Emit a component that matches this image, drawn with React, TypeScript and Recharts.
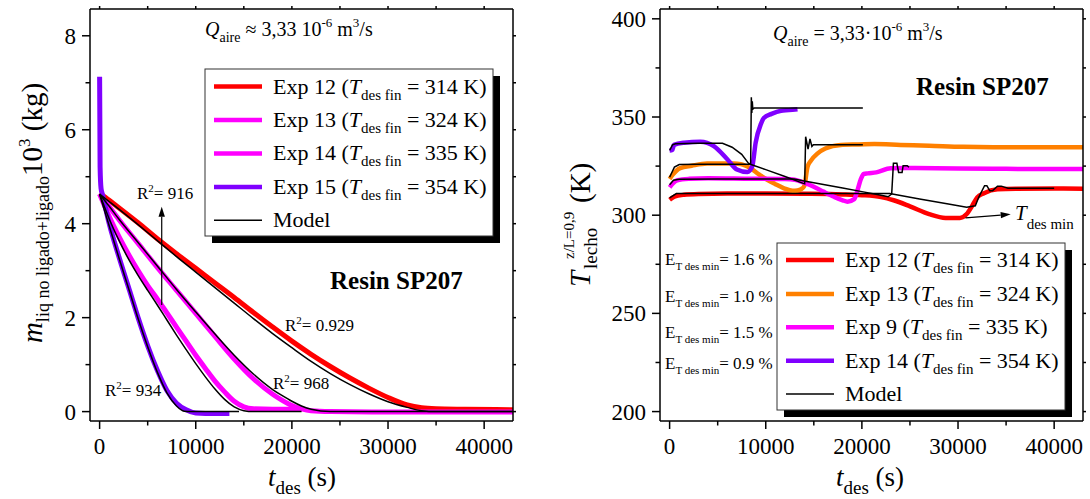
import React from "react";
import { LineChart, Line, XAxis, YAxis, ReferenceLine } from "recharts";

const FONT = "'Liberation Serif', 'Times New Roman', serif";
const RED = "#ff0000";
const MAGENTA = "#ff00ff";
const PURPLE = "#8000ff";
const ORANGE = "#ff8000";

// ---------- left panel: m (10^-3 kg) vs t_des (s) ----------
const tExp12 = [0, 1000, 2000, 4000, 6000, 8000, 10000, 12000, 14000, 16000, 18000, 20000, 22000, 24000, 26000, 28000, 30000, 32000, 33500, 35000, 38000, 43000];
const mExp12 = [4.65, 4.5, 4.34, 4.02, 3.68, 3.36, 3.05, 2.74, 2.43, 2.11, 1.8, 1.5, 1.22, 0.96, 0.72, 0.5, 0.3, 0.14, 0.08, 0.06, 0.05, 0.04];
const mModel12 = [4.63, 4.47, 4.31, 3.98, 3.64, 3.3, 2.97, 2.64, 2.31, 1.98, 1.66, 1.36, 1.07, 0.81, 0.58, 0.38, 0.21, 0.09, 0.02, 0, 0, 0];

const tExp13 = [0, 1000, 2000, 4000, 6000, 8000, 10000, 12000, 14000, 16000, 18000, 19000, 20000, 21000, 22000, 24000, 30000, 43000];
const mExp13 = [4.63, 4.36, 4.09, 3.58, 3.07, 2.58, 2.09, 1.6, 1.12, 0.7, 0.37, 0.24, 0.13, 0.06, 0.02, 0.0, -0.01, -0.01];
const mModel13 = [4.63, 4.37, 4.1, 3.6, 3.1, 2.6, 2.12, 1.65, 1.2, 0.8, 0.47, 0.34, 0.22, 0.12, 0.05, 0.0, 0, 0];

const tExp14 = [0, 1000, 2000, 3000, 4000, 5000, 6000, 7000, 8000, 9000, 10000, 11000, 12000, 13000, 14000, 15000, 16000, 18000, 21000];
const mExp14 = [4.63, 4.15, 3.73, 3.35, 3.0, 2.68, 2.4, 2.1, 1.8, 1.5, 1.2, 0.92, 0.65, 0.42, 0.22, 0.1, 0.06, 0.05, 0.05];
const mModel14 = [4.63, 4.1, 3.65, 3.25, 2.9, 2.58, 2.27, 1.95, 1.63, 1.32, 1.02, 0.74, 0.48, 0.26, 0.1, 0.02, 0, 0, 0];

const tExp15 = [0, 50, 150, 300, 1000, 2000, 3000, 4000, 5000, 6000, 7000, 8000, 9000, 10000, 11000, 13500];
const mExp15 = [7.13, 5.2, 4.75, 4.62, 4.0, 3.3, 2.65, 2.0, 1.4, 0.88, 0.45, 0.18, 0.04, -0.03, -0.04, -0.04];
const tModel15 = [0, 1000, 2000, 3000, 4000, 5000, 6000, 7000, 8000, 8800, 9500, 14500];
const mModel15 = [4.62, 3.95, 3.28, 2.63, 1.98, 1.38, 0.84, 0.4, 0.12, 0.01, 0, 0];

// ---------- right panel: T bed (K) vs t_des (s) ----------
const tT12 = [0, 500, 1500, 3000, 6000, 10000, 14000, 18000, 20000, 22000, 23300, 25000, 27000, 28700, 30200, 30900, 31500, 32000, 32700, 34100, 36000, 40000, 43000];
const T12 = [307.9, 309.5, 310.4, 310.8, 311.0, 311.0, 310.9, 310.6, 310.2, 309.2, 307.6, 304.5, 300.5, 298.6, 298.6, 300.6, 305.0, 309.1, 311.2, 313.2, 313.5, 313.6, 313.5];
const tTm12 = [0, 700, 5000, 10000, 15000, 20000, 22900, 26000, 29000, 30900, 31800, 32150, 32760, 33000, 33300, 33600, 34100, 34500, 35200, 40000];
const Tm12 = [308.8, 311.0, 311.1, 311.1, 311.1, 311.1, 311.0, 308.3, 305.7, 304.0, 304.8, 309.1, 315.0, 315.0, 312.5, 312.5, 314.8, 314.8, 313.7, 313.7];

const tT13 = [0, 300, 1100, 2300, 3900, 5200, 6700, 7400, 8400, 9300, 10200, 11000, 11900, 12800, 13300, 13700, 14000, 14350, 14700, 15400, 16200, 17800, 19700, 21300, 24000, 27000, 30500, 35000, 40000, 43000];
const T13 = [318.4, 320.5, 324.0, 325.2, 326.3, 326.3, 326.3, 326.0, 323.9, 320.8, 317.9, 315.8, 313.7, 312.4, 312.6, 313.3, 314.8, 324.7, 327.8, 331.5, 334.0, 335.8, 336.0, 336.2, 335.8, 335.4, 334.8, 334.6, 334.6, 334.6];
const tTm13 = [0, 500, 1000, 3000, 6000, 8400, 10000, 12000, 13900, 14050, 14150, 14400, 14600, 14800, 14950, 17000, 20100];
const Tm13 = [319.3, 324.5, 325.8, 325.9, 325.9, 325.9, 323.2, 319.7, 316.2, 316.0, 340.0, 333.7, 338.8, 335.0, 335.9, 335.9, 335.9];

const tT9 = [0, 400, 800, 2000, 4000, 8000, 12000, 13000, 13900, 15000, 16000, 17100, 18000, 18500, 19200, 19500, 19900, 20200, 20600, 21500, 23000, 24700, 30000, 35000, 40000, 43000];
const T9 = [314.2, 316.5, 317.8, 318.5, 318.8, 318.6, 318.4, 318.1, 316.7, 314.5, 312.0, 309.4, 307.6, 306.9, 308.2, 312.0, 318.5, 321.0, 321.3, 321.8, 323.9, 324.0, 323.8, 323.6, 323.5, 323.5];
const tTm9 = [0, 400, 1000, 5000, 10000, 12950, 14000, 16000, 18000, 20000, 22000, 22730, 23100, 23280, 23640, 23820, 24180, 24290, 24720, 24900];
const Tm9 = [315.5, 317.8, 318.3, 318.4, 318.4, 318.4, 317.4, 315.6, 313.8, 312.0, 310.2, 309.4, 310.8, 326.4, 326.4, 321.8, 321.8, 325.2, 325.2, 324.4];

const tT14 = [0, 280, 450, 1500, 3200, 4600, 6000, 7000, 8100, 8600, 8950, 9500, 9800, 10600, 11600, 12400, 13300];
const T14 = [332.9, 333.2, 335.8, 336.9, 337.4, 335.2, 328.5, 323.3, 322.0, 325.0, 337.0, 346.5, 349.5, 351.6, 353.2, 353.5, 354.0];
const tTm14 = [0, 300, 600, 3000, 5500, 6500, 7500, 8250, 8430, 8500, 8550, 8600, 8650, 8800, 12000, 20100];
const Tm14 = [333.0, 335.8, 336.4, 336.6, 336.6, 334.6, 331.0, 326.1, 326.5, 360.1, 352.0, 358.0, 354.0, 354.6, 354.6, 354.6];

// ---------- axes / labels ----------
const xMajor = [0, 10000, 20000, 30000, 40000];
const xMinor = [5000, 15000, 25000, 35000];
const mMajor = [0, 2, 4, 6, 8];
const mMinor = [1, 3, 5, 7];
const TMajor = [200, 250, 300, 350, 400];
const TMinor = [225, 275, 325, 375];

const leftLegend = [
  { name: "Exp 12", temp: 314, color: RED },
  { name: "Exp 13", temp: 324, color: MAGENTA },
  { name: "Exp 14", temp: 335, color: MAGENTA },
  { name: "Exp 15", temp: 354, color: PURPLE },
];
const rightLegend = [
  { name: "Exp 12", temp: 314, color: RED },
  { name: "Exp 13", temp: 324, color: ORANGE },
  { name: "Exp 9", temp: 335, color: MAGENTA },
  { name: "Exp 14", temp: 354, color: PURPLE },
];
const errLabels = ["1.6", "1.0", "1.5", "0.9"];

const pts = (t: number[], v: number[]) => t.map((x, i) => ({ t: x, v: v[i] }));
const sortTicks = (a: number[], b: number[]) => [...a, ...b].sort((p, q) => p - q);

type Side = "bottom" | "top" | "left" | "right";
const makeTick = (side: Side, majors: number[]) => (props: any) => {
  const { x, y, payload } = props;
  const major = majors.includes(payload.value);
  const mirror = side === "top" || side === "right";
  const len = mirror ? 3 : major ? 8 : 4.5;
  const s = { stroke: "#000", strokeWidth: 1.5 };
  if (side === "bottom")
    return (
      <g>
        <line x1={x} y1={y} x2={x} y2={y + len} {...s} />
        {major && (
          <text x={x} y={y + 33} textAnchor="middle" fontSize={23} fontFamily={FONT} fill="#000">
            {payload.value}
          </text>
        )}
      </g>
    );
  if (side === "top") return <line x1={x} y1={y} x2={x} y2={y - len} {...s} />;
  if (side === "right") return <line x1={x} y1={y} x2={x + len} y2={y} {...s} />;
  return (
    <g>
      <line x1={x} y1={y} x2={x - len} y2={y} {...s} />
      {major && (
        <text x={x - 14} y={y + 8} textAnchor="end" fontSize={23} fontFamily={FONT} fill="#000">
          {payload.value}
        </text>
      )}
    </g>
  );
};

const Arrow = (props: any) => {
  const { x1, y1, x2, y2 } = props;
  const a = Math.atan2(y2 - y1, x2 - x1);
  const L = 10;
  const W = 3.2;
  const bx = x2 - L * Math.cos(a);
  const by = y2 - L * Math.sin(a);
  const px = -Math.sin(a) * W;
  const py = Math.cos(a) * W;
  return (
    <g>
      <line x1={x1} y1={y1} x2={bx} y2={by} stroke="#000" strokeWidth={1.2} />
      <polygon points={`${x2},${y2} ${bx + px},${by + py} ${bx - px},${by - py}`} fill="#000" />
    </g>
  );
};

const axisLine = { stroke: "#000", strokeWidth: 1.5 };

const expLine = (key: string, data: any[], color: string, w: number) => (
  <Line key={key} data={data} dataKey="v" type="monotone" stroke={color} strokeWidth={w} dot={false} isAnimationActive={false} strokeLinejoin="round" />
);
const modelLine = (key: string, data: any[], curve: "monotone" | "linear") => (
  <Line key={key} data={data} dataKey="v" type={curve} stroke="#000" strokeWidth={1.5} dot={false} isAnimationActive={false} />
);

const Frame = ({ yDomain, yMajor, yMinor, leftW, rightW }: any) => [
  <XAxis key="xb" dataKey="t" type="number" domain={[-1000, 43000]} allowDataOverflow ticks={sortTicks(xMajor, xMinor)} interval={0} tickSize={0} tickMargin={0} tickLine={false} height={78} axisLine={axisLine} tick={makeTick("bottom", xMajor)} />,
  <XAxis key="xt" xAxisId="top" orientation="top" dataKey="t" type="number" domain={[-1000, 43000]} allowDataOverflow ticks={sortTicks(xMajor, xMinor)} interval={0} tickSize={0} tickMargin={0} tickLine={false} height={9} axisLine={axisLine} tick={makeTick("top", xMajor)} />,
  <YAxis key="yl" type="number" domain={yDomain} allowDataOverflow ticks={sortTicks(yMajor, yMinor)} interval={0} tickSize={0} tickMargin={0} tickLine={false} width={leftW} axisLine={axisLine} tick={makeTick("left", yMajor)} />,
  <YAxis key="yr" yAxisId="right" orientation="right" type="number" domain={yDomain} allowDataOverflow ticks={sortTicks(yMajor, yMinor)} interval={0} tickSize={0} tickMargin={0} tickLine={false} width={rightW} axisLine={axisLine} tick={makeTick("right", yMajor)} />,
];

const Legend = ({ x, y, rows, rowY }: any) => (
  <g>
    <rect x={x + 7} y={y + 7} width={288} height={167} fill="#000" />
    <rect x={x} y={y} width={288} height={167} fill="#fff" stroke="#333" strokeWidth={1} />
    {rows.map((r: any, i: number) => (
      <g key={i}>
        <line x1={x + 9} x2={x + 57} y1={rowY[i]} y2={rowY[i]} stroke={r.color} strokeWidth={4.5} />
        <text x={x + 68} y={rowY[i] + 7} fontSize={22} fontFamily={FONT} style={{ whiteSpace: "pre" }}>
          {`${r.name} (`}
          <tspan fontStyle="italic">T</tspan>
          <tspan fontSize={15} dy={6}>des fin</tspan>
          <tspan dy={-6}>{` = ${r.temp} K)`}</tspan>
        </text>
      </g>
    ))}
    <line x1={x + 9} x2={x + 57} y1={rowY[4]} y2={rowY[4]} stroke="#000" strokeWidth={1.5} />
    <text x={x + 68} y={rowY[4] + 7} fontSize={22} fontFamily={FONT}>Model</text>
  </g>
);

const R2 = ({ x, y, v }: any) => (
  <text x={x} y={y} fontSize={17} fontFamily={FONT} style={{ whiteSpace: "pre" }}>
    R<tspan fontSize={11} dy={-7}>2</tspan>
    <tspan dy={7}>{`= ${v}`}</tspan>
  </text>
);

export default function App() {
  return (
    <div style={{ position: "absolute", left: 0, top: 0, width: 1090, height: 499, background: "#fff" }}>
      <div style={{ position: "absolute", left: 0, top: 0 }}>
        <LineChart width={545} height={499} margin={{ top: 0, right: 0, bottom: 0, left: 0 }}>
          {Frame({ yDomain: [-0.2, 8.57], yMajor: mMajor, yMinor: mMinor, leftW: 90, rightW: 32 })}
          {expLine("e12", pts(tExp12, mExp12), RED, 5)}
          {expLine("e13", pts(tExp13, mExp13), MAGENTA, 5)}
          {expLine("e14", pts(tExp14, mExp14), MAGENTA, 5)}
          {expLine("e15", pts(tExp15, mExp15), PURPLE, 5)}
          {modelLine("m12", pts(tExp12, mModel12), "monotone")}
          {modelLine("m13", pts(tExp13, mModel13), "monotone")}
          {modelLine("m14", pts(tExp14, mModel14), "monotone")}
          {modelLine("m15", pts(tModel15, mModel15), "monotone")}
          <ReferenceLine segment={[{ x: 6460, y: 2.27 }, { x: 6460, y: 4.36 }]} shape={Arrow} />
        </LineChart>
      </div>
      <div style={{ position: "absolute", left: 545, top: 0 }}>
        <LineChart width={545} height={499} margin={{ top: 0, right: 0, bottom: 0, left: 0 }}>
          {Frame({ yDomain: [195.2, 405], yMajor: TMajor, yMinor: TMinor, leftW: 115, rightW: 7 })}
          {expLine("r12", pts(tT12, T12), RED, 4.5)}
          {expLine("r13", pts(tT13, T13), ORANGE, 4.5)}
          {expLine("r9", pts(tT9, T9), MAGENTA, 4.5)}
          {expLine("r14", pts(tT14, T14), PURPLE, 4.5)}
          {modelLine("rm12", pts(tTm12, Tm12), "linear")}
          {modelLine("rm13", pts(tTm13, Tm13), "linear")}
          {modelLine("rm9", pts(tTm9, Tm9), "linear")}
          {modelLine("rm14", pts(tTm14, Tm14), "linear")}
          <ReferenceLine segment={[{ x: 30778, y: 298.6 }, { x: 35480, y: 300.45 }]} shape={Arrow} />
        </LineChart>
      </div>
      <svg width={1090} height={499} style={{ position: "absolute", left: 0, top: 0, pointerEvents: "none" }} fontFamily={FONT}>
        {/* left panel texts */}
        <text x={205} y={36} fontSize={20} style={{ whiteSpace: "pre" }}>
          <tspan fontStyle="italic">Q</tspan>
          <tspan fontSize={14} dy={6}>aire</tspan>
          <tspan dy={-6}>{" \u2248 3,33 10"}</tspan>
          <tspan fontSize={13} dy={-9}>-6</tspan>
          <tspan dy={9}>{" m"}</tspan>
          <tspan fontSize={13} dy={-9}>3</tspan>
          <tspan dy={9}>/s</tspan>
        </text>
        <Legend x={205} y={69} rows={leftLegend} rowY={[86.5, 120, 153.4, 186.9, 220.3]} />
        <text x={330} y={289} fontSize={25} fontWeight="bold">Resin SP207</text>
        <R2 x={137} y={199} v="916" />
        <R2 x={285} y={331} v="0.929" />
        <R2 x={273} y={389} v="968" />
        <R2 x={105} y={396} v="934" />
        <text x={302} y={486} fontSize={27} textAnchor="middle" style={{ whiteSpace: "pre" }}>
          <tspan fontStyle="italic">t</tspan>
          <tspan fontSize={19} dy={8}>des</tspan>
          <tspan dy={-8}>{" (s)"}</tspan>
        </text>
        <g transform="translate(42, 213) rotate(-90)">
          <text x={0} y={0} fontSize={29} textAnchor="middle" style={{ whiteSpace: "pre" }}>
            <tspan fontStyle="italic">m</tspan>
            <tspan fontSize={18} dy={7}>liq no ligado+ligado</tspan>
            <tspan dy={-7}>10</tspan>
            <tspan fontSize={17} dy={-12}>3</tspan>
            <tspan dy={12}>{" (kg)"}</tspan>
          </text>
        </g>

        {/* right panel texts */}
        <text x={773} y={40} fontSize={20} style={{ whiteSpace: "pre" }}>
          <tspan fontStyle="italic">Q</tspan>
          <tspan fontSize={14} dy={6}>aire</tspan>
          <tspan dy={-6}>{" = 3,33\u00b710"}</tspan>
          <tspan fontSize={13} dy={-9}>-6</tspan>
          <tspan dy={9}>{" m"}</tspan>
          <tspan fontSize={13} dy={-9}>3</tspan>
          <tspan dy={9}>/s</tspan>
        </text>
        <text x={916} y={95} fontSize={25} fontWeight="bold">Resin SP207</text>
        <text x={1015} y={220} fontSize={21} style={{ whiteSpace: "pre" }}>
          <tspan fontStyle="italic">T</tspan>
          <tspan fontSize={15} dy={9}>des min</tspan>
        </text>
        {errLabels.map((v, i) => (
          <text key={v + i} x={665} y={[265, 302, 338, 369][i]} fontSize={17} style={{ whiteSpace: "pre" }}>
            E<tspan fontSize={11} dy={5}>T des min</tspan>
            <tspan dy={-5}>{`= ${v} %`}</tspan>
          </text>
        ))}
        <Legend x={777} y={243} rows={rightLegend} rowY={[260, 294, 327.3, 360.7, 394]} />
        <text x={870} y={486} fontSize={27} textAnchor="middle" style={{ whiteSpace: "pre" }}>
          <tspan fontStyle="italic">t</tspan>
          <tspan fontSize={19} dy={8}>des</tspan>
          <tspan dy={-8}>{" (s)"}</tspan>
        </text>
        <g transform="translate(590, 225) rotate(-90)">
          <text x={-62} y={0} fontSize={29} fontStyle="italic">T</text>
          <text x={-44} y={7} fontSize={19}>lecho</text>
          <text x={-34} y={-16} fontSize={15}>z/L=0,9</text>
          <text x={22} y={0} fontSize={29}>(K)</text>
        </g>
      </svg>
    </div>
  );
}
